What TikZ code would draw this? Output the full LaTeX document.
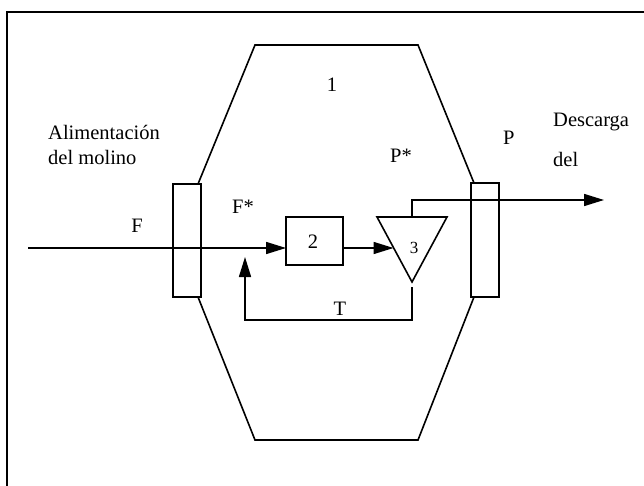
\documentclass[tikz,border=0pt]{standalone}
\usepackage{fontspec}
\setmainfont{Liberation Serif}
\usetikzlibrary{arrows.meta}
\tikzset{
  lbl/.style={font=\fontsize{20.5}{22}\selectfont, inner sep=0pt},
  ln/.style={line width=1.6pt, line join=miter},
  arr/.style={ln, -{Triangle[length=20pt,width=12pt]}},
  frame/.style={line width=1.9pt}
}
\begin{document}
\begin{tikzpicture}[x=1pt,y=-1pt]
\useasboundingbox (0,0) rectangle (644,486);
% frame
\draw[frame] (7,486) -- (7,12) -- (644,12);
% side rectangles
\node[ln, draw, minimum width=28pt, minimum height=113pt, inner sep=0pt] (lrect) at (187,240.5) {};
\node[ln, draw, minimum width=28pt, minimum height=114pt, inner sep=0pt] (rrect) at (485,240) {};
% octagon body
\coordinate (o1) at (255,45);
\coordinate (o2) at (418,45);
\coordinate (o3) at (474,183);
\coordinate (o4) at (474,297);
\coordinate (o5) at (418,440);
\coordinate (o6) at (255,440);
\coordinate (o7) at (198,297);
\coordinate (o8) at (198,184);
\draw[ln] (o8) -- (o1) -- (o2) -- (o3);
\draw[ln] (o4) -- (o5) -- (o6) -- (o7);
% box 2
\node[ln, draw, minimum width=57pt, minimum height=48pt, inner sep=0pt] (b2) at (314.5,241) {};
\node[lbl, anchor=base] (n2) at (313,248) {2};
% triangle 3
\coordinate (t1) at (377,217);
\coordinate (t2) at (447,217);
\coordinate (t3) at (412,282);
\draw[ln] (t1) -- (t2) -- (t3) -- cycle;
\node[lbl, anchor=base, font=\fontsize{17}{18}\selectfont] (n3) at (414,253) {3};
% flows
\coordinate (fin) at (28,248);
\coordinate (b2in) at (286,248);
\coordinate (b2out) at (343,248);
\coordinate (t3in) at (393.5,248);
\coordinate (ttop) at (412,217);
\coordinate (tbend) at (412,200);
\coordinate (pout) at (604,200);
\coordinate (tbot) at (412,287);
\coordinate (rb1) at (412,320);
\coordinate (rb2) at (245,320);
\coordinate (rbend) at (245,257);
\draw[arr] (fin) -- (b2in);
\draw[arr] (b2out) -- (t3in);
\draw[arr] (ttop) -- (tbend) -- (pout);
\draw[arr] (tbot) -- (rb1) -- (rb2) -- (rbend);
% labels
\node[lbl, anchor=base] (n1) at (332,92) {1};
\node[lbl, anchor=base west] (al1) at (48,140) {Alimentación};
\node[lbl, anchor=base west] (al2) at (48,165) {del molino};
\node[lbl, anchor=base] (lF) at (137,232) {F};
\node[lbl, anchor=base west] (lFs) at (232,213) {F*};
\node[lbl, anchor=base west] (lPs) at (390,163) {P*};
\node[lbl, anchor=base west] (lP) at (503,145) {P};
\node[lbl, anchor=base west] (de1) at (553,127) {Descarga};
\node[lbl, anchor=base west] (de2) at (553,167) {del};
\node[lbl, anchor=base] (lT) at (340,315) {T};
\end{tikzpicture}
\end{document}
